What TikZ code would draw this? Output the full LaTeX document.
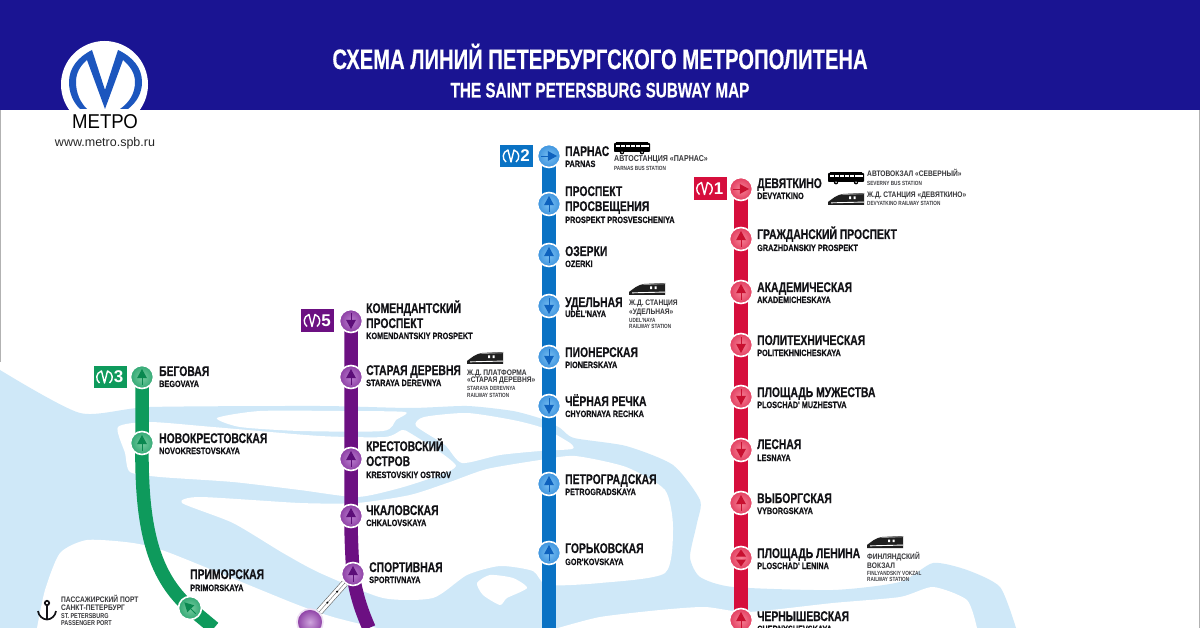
\documentclass[tikz,border=0pt]{standalone}
\usepackage{fontspec}
\newfontfamily\cond{Liberation Sans}[FakeStretch=.74,FakeBold=.35]
\newfontfamily\enf{Liberation Sans}[FakeStretch=.80,FakeBold=.25]
\newfontfamily\notef{Liberation Sans}[FakeStretch=.83]
\newfontfamily\nsubf{Liberation Sans}[FakeStretch=.78]
\newfontfamily\titlef{Liberation Sans}[FakeStretch=.72,FakeBold=.3]
\newfontfamily\plainf{Liberation Sans}
\newfontfamily\metrof{Liberation Sans}[FakeStretch=.93]
\newcommand\fsz[1]{\fontsize{#1}{#1}\selectfont}
\definecolor{header}{RGB}{26,20,146}
\definecolor{logoblue}{RGB}{28,86,190}
\definecolor{water}{RGB}{207,232,248}
\definecolor{ink}{RGB}{18,18,22}
\definecolor{bline}{RGB}{10,114,196}\definecolor{bin}{RGB}{120,190,242}\definecolor{bout}{RGB}{62,148,222}\definecolor{barr}{RGB}{14,98,190}
\definecolor{rline}{RGB}{214,14,60}\definecolor{rin}{RGB}{246,130,150}\definecolor{rout}{RGB}{226,62,96}\definecolor{rarr}{RGB}{200,16,48}
\definecolor{pline}{RGB}{108,16,130}\definecolor{pin}{RGB}{186,126,206}\definecolor{pout}{RGB}{140,62,164}\definecolor{parr}{RGB}{92,14,120}
\definecolor{gline}{RGB}{14,154,92}\definecolor{gin}{RGB}{120,204,160}\definecolor{gout}{RGB}{50,168,116}\definecolor{garr}{RGB}{10,136,80}
\pgfdeclarelayer{lines}
\pgfsetlayers{lines,main}
\tikzset{
  metroline/.style={line width=13.5pt},
  station/.style={circle,draw=white,line width=1.6pt,minimum size=23pt,inner sep=0pt},
  ru/.style={anchor=base west,inner sep=0pt,text=ink,font=\cond\bfseries\fsz{14}},
  en/.style={anchor=base west,inner sep=0pt,text=ink,font=\enf\bfseries\fsz{9.1}},
  note/.style={anchor=base west,inner sep=0pt,text=ink!85,font=\notef\bfseries\fsz{8}},
  notesub/.style={anchor=base west,inner sep=0pt,text=ink!80,font=\nsubf\bfseries\fsz{6}},
  badge/.style={minimum width=33pt,minimum height=22.5pt,inner sep=0pt,text=white,font=\plainf\bfseries\fsz{17}},
  transfer/.style={draw=black!60,double=white,line width=.6pt,double distance=6pt},
  transfermid/.style={draw=black!60,line width=.4pt},
  trdot/.style={fill=black,circle,inner sep=.8pt},
  minim/.pic={\draw[white,line width=1.4pt,line join=round]
     (-5,6) .. controls (-9,3) and (-9,-4) .. (-3,-6) -- (0,6) -- (3,-6) .. controls (9,-4) and (9,3) .. (5,6);},
  busicon/.pic={\fill[black,rounded corners=.8pt] (0,1) rectangle (36,10);
     \fill[black] (2,0) rectangle (34,1.2);
     \foreach \q in {2,7,12,17,22,27,31}{\fill[white] (\q,3) rectangle ++(3.8,2.2);}
     \fill[black] (8,10.2) circle[radius=2.2] (28,10.2) circle[radius=2.2];
     \fill[white] (8,10.2) circle[radius=.8] (28,10.2) circle[radius=.8];},
  trainicon/.pic={\fill[black!88] (0,12) -- (0,9) .. controls (4,6) and (9,1.5) .. (15,1) -- (36,0) -- (36,12) -- cycle;
     \fill[white] (3,9.4) -- (36,8.6) -- (36,9.5) -- (3,10.3) -- cycle;
     \fill[white] (21,3.5) rectangle (23.2,6.2) (25.5,3.5) rectangle (27.7,6.2);
     \fill[black!45] (14,1.2) -- (36,.2) -- (36,1.2) -- (15,2) -- cycle;}
}
% name, position, colour prefix, arrow rotation
\newcommand\stn[4]{\node[station,inner color=#3in,outer color=#3out] (#1) at (#2) {};
  \begin{scope}[shift={(#1.center)},rotate=#4]
    \fill[#3arr] (0,-8) -- (-5,1.2) -- (5,1.2) -- cycle;
    \draw[#3arr,line width=.9pt] (0,0) -- (0,8);
  \end{scope}}
\newcommand\lb[4]{\node[#1] (#2) at (#3) {#4};}
\begin{document}
\begin{tikzpicture}[x=1pt,y=-1pt]
\useasboundingbox (0,0) rectangle (1200,628);
\begin{pgfonlayer}{lines}
  \fill[white] (0,0) rectangle (1200,628);
  % water
  \fill[water] plot[smooth,tension=.4] coordinates {(0,370) (80,413) (150,407) (320,406) (410,408) (467,406) (513,411) (542,419) (560,428) (574,438) (626,446) (673,465) (700,500) (697,523) (690,557) (700,577) (733,587) (833,590) (900,582) (933,563) (967,570) (1000,587) (1016,628)} -- (0,628) -- cycle;
  % land
  \fill[white] plot[smooth cycle,tension=.4] coordinates {(217,418) (260,411) (340,411) (405,412) (396,420) (383,431) (300,431) (240,427)};
  \fill[white] plot[smooth cycle,tension=.4] coordinates {(416,426) (424,417) (467,413) (513,420) (543,428) (570,443) (572,449) (540,451) (500,455) (462,463) (445,445)};
  \fill[white] plot[smooth cycle,tension=.4] coordinates {(118,427) (150,422) (213,427) (320,436) (385,437) (402,430) (410,433) (440,452) (456,466) (440,475) (400,488) (357,497) (300,490) (233,482) (160,477) (130,472) (125,453)};
  \fill[white] plot[smooth cycle,tension=.4] coordinates {(182,503) (200,497) (300,503) (357,503) (410,495) (450,482) (487,469) (540,460) (575,456) (626,467) (665,490) (673,527) (665,573) (600,583) (547,585) (533,571) (500,566) (467,575) (433,598) (383,598) (320,573) (283,553) (233,523)};
  \fill[white] plot[smooth cycle,tension=.4] coordinates {(477,583) (490,575) (513,578) (527,588) (507,598) (500,605) (483,595)};
  \fill[white] plot[smooth,tension=.4] coordinates {(37,628) (45,590) (60,553) (87,540) (133,543) (170,553) (293,603) (333,617) (377,628)} -- cycle;
  \fill[white] plot[smooth,tension=.4] coordinates {(558,628) (600,617) (660,610) (705,607) (748,612) (833,603) (900,597) (933,587) (967,600) (977,628)} -- cycle;
\end{pgfonlayer}
% page edges
\draw[black!30,line width=.8pt] (.4,110) -- (.4,362) (1199.6,110) -- (1199.6,628);
% header
\fill[header] (0,0) rectangle (1200,110);
\node[anchor=base,inner sep=0pt,text=white,font=\titlef\bfseries\fsz{28.1}] (title) at (600,69) {СХЕМА ЛИНИЙ ПЕТЕРБУРГСКОГО МЕТРОПОЛИТЕНА};
\node[anchor=base,inner sep=0pt,text=white,font=\titlef\bfseries\fsz{21.2}] (subtitle) at (600,97.5) {THE SAINT PETERSBURG SUBWAY MAP};
% logo
\fill[white] (104.5,84.5) circle[radius=43.5];
\fill[logoblue] (92,50) .. controls (78,57) and (69,68) .. (69,82) .. controls (69,93) and (73,102) .. (80,109) -- (87,109) .. controls (80,102) and (76,93) .. (76,82) .. controls (76,73) and (80,66) .. (87,60) -- (105,109) -- (123,60) .. controls (130,66) and (135,73) .. (135,82) .. controls (135,93) and (130,102) .. (120,109) -- (128,109) .. controls (137,102) and (142,93) .. (142,82) .. controls (142,68) and (133,57) .. (118,50) -- (105,90) -- cycle;
\node[anchor=base,inner sep=0pt,text=black,font=\metrof\fsz{20}] (metro) at (105,129) {МЕТРО};
\node[anchor=base,inner sep=0pt,text=black!85,font=\plainf\fsz{12.5}] (url) at (105,146.5) {www.metro.spb.ru};

% line 2
\stn{a1}{549,156}{b}{-90}
\stn{a2}{549,204}{b}{0}
\stn{a3}{549,255}{b}{0}
\stn{a4}{549,306}{b}{180}
\stn{a5}{549,357}{b}{180}
\stn{a6}{549,406}{b}{180}
\stn{a7}{549,484}{b}{0}
\stn{a8}{549,553}{b}{0}
\coordinate (aend) at (549,628);
% line 1
\stn{c1}{741,189}{r}{-90}
\stn{c2}{741,239}{r}{0}
\stn{c3}{741,292}{r}{0}
\stn{c4}{741,345}{r}{180}
\stn{c5}{741,397}{r}{180}
\stn{c6}{741,450}{r}{180}
\stn{c7}{741,503}{r}{0}
\node[station,inner color=rin,outer color=rout] (c8) at (741,558) {};
\fill[rarr] (c8.center) ++(0,-8.5) -- ++(-5,7) -- ++(10,0) -- cycle;
\fill[rarr] (c8.center) ++(0,8.5) -- ++(-5,-7) -- ++(10,0) -- cycle;
\stn{c9}{741,620}{r}{0}
\coordinate (cend) at (741,628);
% line 5
\stn{e1}{351,321}{p}{180}
\stn{e2}{351,377}{p}{0}
\stn{e3}{351,459}{p}{0}
\stn{e4}{351,516}{p}{0}
\stn{e5}{353,574}{p}{0}
\coordinate (eend) at (369,628);
\node[station,minimum size=26pt,inner color=pin!70!white,outer color=pout,draw=pin!25!white] (e6) at (310,622) {};
% line 3
\stn{g1}{142,377}{g}{0}
\stn{g2}{142,443}{g}{0}
\stn{g3}{190,608}{g}{45}
\coordinate (gend) at (214,628);

\begin{pgfonlayer}{lines}
  \draw[metroline,bline] (a1.center) -- (a2.center) -- (a3.center) -- (a4.center) -- (a5.center) -- (a6.center) -- (a7.center) -- (a8.center) -- (aend);
  \draw[metroline,rline] (c1.center) -- (c2.center) -- (c3.center) -- (c4.center) -- (c5.center) -- (c6.center) -- (c7.center) -- (c8.center) -- (c9.center) -- (cend);
  \draw[metroline,pline] (e1.center) -- (e2.center) -- (e3.center) -- (e4.center) .. controls (351,540) and (352,555) .. (e5.center) .. controls (356,595) and (362,612) .. (eend);
  \draw[metroline,gline] (g1.center) -- (g2.center) .. controls (141,525) and (152,575) .. (g3.center) -- (gend);
\end{pgfonlayer}
\draw[transfer] (e5) -- (e6);
\draw[transfermid] (e5) -- node[pos=.3,trdot] (tr1) {} node[pos=.68,trdot] (tr2) {} (e6);

% badges
\node[badge,fill=bline] (b2) at (516.5,156) {\hspace*{17pt}2};
\pic at ([xshift=-5.5pt]b2.center) {minim};
\node[badge,fill=rline] (b1) at (710,188.5) {\hspace*{17pt}1};
\pic at ([xshift=-5.5pt]b1.center) {minim};
\node[badge,fill=pline] (b5) at (317.5,320.5) {\hspace*{17pt}5};
\pic at ([xshift=-5.5pt]b5.center) {minim};
\node[badge,fill=gline] (b3) at (110,377) {\hspace*{17pt}3};
\pic at ([xshift=-5.5pt]b3.center) {minim};

% labels line 2
\lb{ru}{la1}{565,156}{ПАРНАС}\lb{en}{la1e}{565,167}{PARNAS}
\lb{ru}{la2}{565,196}{ПРОСПЕКТ}\lb{ru}{la2b}{565,211}{ПРОСВЕЩЕНИЯ}\lb{en}{la2e}{565,223}{PROSPEKT PROSVESCHENIYA}
\lb{ru}{la3}{565,256}{ОЗЕРКИ}\lb{en}{la3e}{565,267}{OZERKI}
\lb{ru}{la4}{565,307}{УДЕЛЬНАЯ}\lb{en}{la4e}{565,317}{UDEL'NAYA}
\lb{ru}{la5}{565,357}{ПИОНЕРСКАЯ}\lb{en}{la5e}{565,368}{PIONERSKAYA}
\lb{ru}{la6}{565,406}{ЧЁРНАЯ РЕЧКА}\lb{en}{la6e}{565,417}{CHYORNAYA RECHKA}
\lb{ru}{la7}{565,484}{ПЕТРОГРАДСКАЯ}\lb{en}{la7e}{565,495}{PETROGRADSKAYA}
\lb{ru}{la8}{565,553}{ГОРЬКОВСКАЯ}\lb{en}{la8e}{565,565}{GOR'KOVSKAYA}
% labels line 1
\lb{ru}{lc1}{757,188}{ДЕВЯТКИНО}\lb{en}{lc1e}{757,199}{DEVYATKINO}
\lb{ru}{lc2}{757,239}{ГРАЖДАНСКИЙ ПРОСПЕКТ}\lb{en}{lc2e}{757,251}{GRAZHDANSKIY PROSPEKT}
\lb{ru}{lc3}{757,292}{АКАДЕМИЧЕСКАЯ}\lb{en}{lc3e}{757,303}{AKADEMICHESKAYA}
\lb{ru}{lc4}{757,345}{ПОЛИТЕХНИЧЕСКАЯ}\lb{en}{lc4e}{757,356}{POLITEKHNICHESKAYA}
\lb{ru}{lc5}{757,397}{ПЛОЩАДЬ МУЖЕСТВА}\lb{en}{lc5e}{757,408}{PLOSCHAD' MUZHESTVA}
\lb{ru}{lc6}{757,449}{ЛЕСНАЯ}\lb{en}{lc6e}{757,461}{LESNAYA}
\lb{ru}{lc7}{757,503}{ВЫБОРГСКАЯ}\lb{en}{lc7e}{757,514}{VYBORGSKAYA}
\lb{ru}{lc8}{757,558}{ПЛОЩАДЬ ЛЕНИНА}\lb{en}{lc8e}{757,569}{PLOSCHAD' LENINA}
\lb{ru}{lc9}{757,621}{ЧЕРНЫШЕВСКАЯ}\lb{en}{lc9e}{757,632}{CHERNYSHEVSKAYA}
% labels line 5
\lb{ru}{le1}{366,313}{КОМЕНДАНТСКИЙ}\lb{ru}{le1b}{366,328}{ПРОСПЕКТ}\lb{en}{le1e}{366,339}{KOMENDANTSKIY PROSPEKT}
\lb{ru}{le2}{366,375}{СТАРАЯ ДЕРЕВНЯ}\lb{en}{le2e}{366,386}{STARAYA DEREVNYA}
\lb{ru}{le3}{366,451}{КРЕСТОВСКИЙ}\lb{ru}{le3b}{366,466}{ОСТРОВ}\lb{en}{le3e}{366,478}{KRESTOVSKIY OSTROV}
\lb{ru}{le4}{366,515}{ЧКАЛОВСКАЯ}\lb{en}{le4e}{366,526}{CHKALOVSKAYA}
\lb{ru}{le5}{369,572}{СПОРТИВНАЯ}\lb{en}{le5e}{369,583}{SPORTIVNAYA}
% labels line 3
\lb{ru}{lg1}{159,376}{БЕГОВАЯ}\lb{en}{lg1e}{159,387}{BEGOVAYA}
\lb{ru}{lg2}{159,443}{НОВОКРЕСТОВСКАЯ}\lb{en}{lg2e}{159,454}{NOVOKRESTOVSKAYA}
\lb{ru}{lg3}{190,579}{ПРИМОРСКАЯ}\lb{en}{lg3e}{190,591}{PRIMORSKAYA}

% transport notes
\pic at (614,142) {busicon};
\node[note,font=\notef\bfseries\fsz{8.5}] (n1) at (614,162) {АВТОСТАНЦИЯ «ПАРНАС»};\lb{notesub}{n1e}{614,171}{PARNAS BUS STATION}
\pic at (629,283) {trainicon};
\lb{note}{n2}{629,306}{Ж.Д. СТАНЦИЯ}\lb{note}{n2b}{629,315}{«УДЕЛЬНАЯ»}\lb{notesub}{n2e}{629,323}{UDEL'NAYA}\lb{notesub}{n2f}{629,329}{RAILWAY STATION}
\pic at (828,172) {busicon};
\lb{note}{n3}{867,177}{АВТОВОКЗАЛ «СЕВЕРНЫЙ»}\lb{notesub}{n3e}{867,186}{SEVERNY BUS STATION}
\pic at (828,193) {trainicon};
\lb{note}{n4}{867,198}{Ж.Д. СТАНЦИЯ «ДЕВЯТКИНО»}\lb{notesub}{n4e}{867,206}{DEVYATKINO RAILWAY STATION}
\pic at (467,352) {trainicon};
\lb{note}{n5}{467,375}{Ж.Д. ПЛАТФОРМА}\lb{note}{n5b}{467,383}{«СТАРАЯ ДЕРЕВНЯ»}\lb{notesub}{n5e}{467,391}{STARAYA DEREVNYA}\lb{notesub}{n5f}{467,397}{RAILWAY STATION}
\pic at (867,536) {trainicon};
\lb{note}{n6}{867,559}{ФИНЛЯНДСКИЙ}\lb{note}{n6b}{867,568}{ВОКЗАЛ}\lb{notesub}{n6e}{867,575}{FINLYANDSKIY VOKZAL}\lb{notesub}{n6f}{867,581}{RAILWAY STATION}
% port
\draw[ink,line width=1.7pt] (47,603) circle[radius=2.2];
\draw[ink,line width=1.7pt] (47,605.2) -- (47,620) (38,611) .. controls (38.5,616) and (43,619.5) .. (47,619.5) .. controls (51,619.5) and (55.5,616) .. (56,611);
\lb{note}{n7}{61,602}{ПАССАЖИРСКИЙ ПОРТ}\lb{note}{n7b}{61,610}{САНКТ-ПЕТЕРБУРГ}
\node[note,font=\nsubf\bfseries\fsz{7}] (n7e) at (61,618) {ST. PETERSBURG};
\node[note,font=\nsubf\bfseries\fsz{7}] (n7f) at (61,625) {PASSENGER PORT};
\end{tikzpicture}
\end{document}
